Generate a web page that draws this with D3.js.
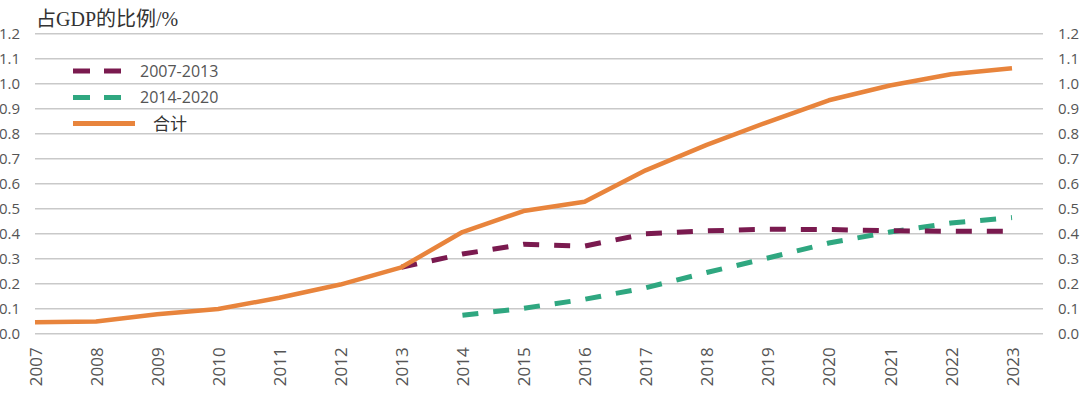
<!DOCTYPE html>
<html>
<head>
<meta charset="utf-8">
<script src="https://cdn.jsdelivr.net/npm/d3@7"></script>
<style>
  html, body { margin: 0; padding: 0; background: #fff; }
  svg { display: block; }
</style>
</head>
<body>
<svg id="chart" width="1080" height="396"></svg>
<script>
const years = [2007,2008,2009,2010,2011,2012,2013,2014,2015,2016,2017,2018,2019,2020,2021,2022,2023];
const total = [0.044,0.047,0.076,0.097,0.142,0.195,0.264,0.405,0.489,0.526,0.652,0.754,0.845,0.932,0.991,1.036,1.060];
const cohort2007 = [null,null,null,null,null,null,0.264,0.317,0.356,0.349,0.398,0.410,0.416,0.415,0.410,0.408,0.408];
const cohort2014 = [null,null,null,null,null,null,null,0.072,0.100,0.136,0.182,0.243,0.301,0.361,0.405,0.441,0.463];
const yTicks = [0,0.1,0.2,0.3,0.4,0.5,0.6,0.7,0.8,0.9,1.0,1.1,1.2];
const seriesNames = ["2007-2013","2014-2020","合计"];
const titleText = "占GDP的比例/%";

const colors = {purple:"#7a1a4f", green:"#2fa780", orange:"#e8843c"};
const svg = d3.select("#chart");

const x = d3.scalePoint().domain(years).range([35, 1012]);
const y = d3.scaleLinear().domain([0, 1.2]).range([333.3, 33.3]);
const gridLeft = 35, gridRight = 1043;

// Gridlines + left axis
const gl = svg.append("g").attr("transform", `translate(${gridLeft},0)`)
  .call(d3.axisLeft(y).tickValues(yTicks).tickFormat(d3.format(".1f"))
    .tickSize(-(gridRight - gridLeft)).tickPadding(15));
gl.select(".domain").remove();
gl.selectAll(".tick line").attr("stroke", "#c9c9c9").attr("stroke-width", 1.6);
gl.selectAll(".tick text").attr("fill", "#555").style("font-family", "'Open Sans', sans-serif").style("font-size", "15px");

// Right axis labels
const gr = svg.append("g").attr("transform", `translate(${gridRight},0)`)
  .call(d3.axisRight(y).tickValues(yTicks).tickFormat(d3.format(".1f")).tickSize(0).tickPadding(15));
gr.select(".domain").remove();
gr.selectAll(".tick text").attr("fill", "#555").style("font-family", "'Open Sans', sans-serif").style("font-size", "15px");

// Bottom axis (rotated labels)
const gb = svg.append("g").attr("transform", `translate(0,${y(0)})`)
  .call(d3.axisBottom(x).tickSize(0));
gb.select(".domain").remove();
gb.selectAll(".tick text")
  .attr("transform", "rotate(-90)")
  .attr("x", -14).attr("y", 0).attr("dy", "0.36em")
  .style("text-anchor", "end")
  .attr("fill", "#555")
  .style("font-family", "'Open Sans', sans-serif").style("font-size", "17px");

// Lines
const line = (vals) => d3.line()
  .defined((d, i) => vals[i] !== null)
  .x((d, i) => x(years[i]))
  .y((d, i) => y(vals[i]))(years);

svg.append("path").attr("d", line(cohort2014)).attr("fill", "none")
  .attr("stroke", colors.green).attr("stroke-width", 5).attr("stroke-dasharray", "16,15");
svg.append("path").attr("d", line(cohort2007)).attr("fill", "none")
  .attr("stroke", colors.purple).attr("stroke-width", 5).attr("stroke-dasharray", "16,15");
svg.append("path").attr("d", line(total)).attr("fill", "none")
  .attr("stroke", colors.orange).attr("stroke-width", 4.5).attr("stroke-linejoin", "round");

// Title
svg.append("text").attr("x", 36).attr("y", 26).text(titleText)
  .attr("fill", "#333").style("font-family", "'Liberation Serif', 'Noto Sans CJK SC', serif").style("font-size", "20px");

// Legend
const legend = [
  {name: seriesNames[0], color: colors.purple, dash: "17,14", ly: 71},
  {name: seriesNames[1], color: colors.green, dash: "17,14", ly: 97.5},
  {name: seriesNames[2], color: colors.orange, dash: null, ly: 123.5}
];
const lg = svg.append("g");
legend.forEach((l, i) => {
  lg.append("line").attr("x1", 73).attr("x2", i < 2 ? 121 : 135).attr("y1", l.ly).attr("y2", l.ly)
    .attr("stroke", l.color).attr("stroke-width", 5)
    .attr("stroke-dasharray", l.dash);
  lg.append("text").attr("x", i < 2 ? 140 : 153).attr("y", l.ly).attr("dy", "0.36em").text(l.name)
    .attr("fill", i < 2 ? "#555" : "#333")
    .style("font-family", i < 2 ? "'Open Sans', sans-serif" : "'Noto Sans CJK SC', serif")
    .style("font-size", i < 2 ? "16px" : "17px");
});
</script>
</body>
</html>
